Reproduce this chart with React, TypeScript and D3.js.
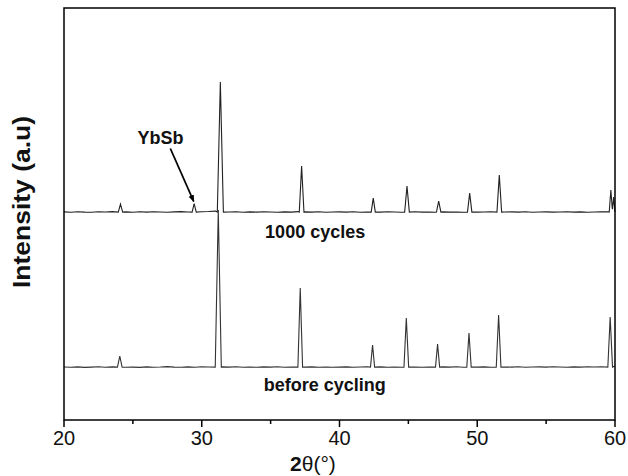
import React from 'react';
import * as d3 from 'd3';

// ---- data ----
const xTicks = [20, 30, 40, 50, 60];
const xMinorTicks = [25, 35, 45, 55];

// "before cycling" pattern: peak positions (2θ) and heights (a.u.)
const beforePeakPos = [24.05, 31.2, 37.15, 42.4, 44.85, 47.12, 49.4, 51.55, 59.65];
const beforePeakInt = [11, 157, 79, 22, 49, 23, 34, 52, 50];
const beforePeakW = [0.17, 0.22, 0.17, 0.15, 0.17, 0.15, 0.16, 0.17, 0.17];

// "1000 cycles" pattern
const afterPeakPos = [24.1, 29.45, 31.35, 37.25, 42.45, 44.9, 47.2, 49.45, 51.6, 59.7, 59.9];
const afterPeakInt = [8, 8.5, 130, 46, 14, 26, 11, 19, 37, 22, 15];
const afterPeakW = [0.16, 0.15, 0.22, 0.17, 0.15, 0.17, 0.16, 0.16, 0.17, 0.12, 0.1];

// background grid (2θ) and background levels of both patterns
const bgTheta = [
  20, 20.5, 21, 21.5, 22, 22.5, 23, 23.5, 24, 24.5, 25, 25.5, 26, 26.5, 27, 27.5, 28, 28.5, 29, 29.5,
  30, 30.5, 31, 31.5, 32, 32.5, 33, 33.5, 34, 34.5, 35, 35.5, 36, 36.5, 37, 37.5, 38, 38.5, 39, 39.5,
  40, 40.5, 41, 41.5, 42, 42.5, 43, 43.5, 44, 44.5, 45, 45.5, 46, 46.5, 47, 47.5, 48, 48.5, 49, 49.5,
  50, 50.5, 51, 51.5, 52, 52.5, 53, 53.5, 54, 54.5, 55, 55.5, 56, 56.5, 57, 57.5, 58, 58.5, 59, 59.5, 60,
];
const beforeBg = [
  0.5, 0.2, 0.6, 0.1, 0.4, 0.8, 0.3, 0.6, 0.5, 0.2, 0.4, 0.1, 0.6, 0.3, 0.5, 0.9, 0.4, 0.2, 0.6, 0.3,
  0.7, 0.5, 0.9, 0.6, 0.4, 0.8, 0.3, 0.5, 0.2, 0.6, 0.4, 0.7, 0.3, 0.5, 0.8, 0.4, 0.6, 0.3, 0.5, 0.2,
  0.4, 0.6, 0.3, 0.5, 0.7, 0.4, 0.6, 0.2, 0.5, 0.3, 0.6, 0.4, 0.2, 0.5, 0.3, 0.6, 0.4, 0.7, 0.3, 0.5,
  0.4, 0.6, 0.3, 0.2, 0.5, 0.4, 0.7, 0.3, 0.5, 0.6, 0.4, 0.8, 0.5, 0.3, 0.6, 0.4, 0.7, 0.5, 0.8, 0.6, 1.5,
];
const afterBg = [
  0.6, 0.3, 0.8, 0.4, 0.2, 0.7, 0.5, 0.9, 0.4, 0.6, 0.3, 0.7, 0.4, 0.8, 0.5, 0.3, 0.6, 0.9, 0.5, 0.4,
  0.8, 1.0, 1.4, 0.9, 0.5, 0.7, 0.3, 0.6, 0.4, 0.8, 0.5, 0.3, 0.6, 0.4, 0.9, 0.6, 0.4, 0.7, 0.3, 0.5,
  0.6, 0.4, 0.7, 0.3, 0.5, 0.6, 0.4, 0.8, 0.5, 0.3, 0.6, 0.7, 0.4, 0.5, 0.3, 0.6, 0.4, 0.5, 0.3, 0.6,
  0.4, 0.5, 0.7, 0.3, 0.5, 0.6, 0.4, 0.7, 0.3, 0.5, 0.6, 0.4, 0.5, 0.7, 0.4, 0.6, 0.3, 0.5, 0.6, 0.8, 0.5,
];
const afterOffset = 155;

// annotation (YbSb arrow): from (2θ, a.u.) to (2θ, a.u.)
const arrowFrom = [27.72, afterOffset + 64];
const arrowTo = [29.42, afterOffset + 11];

// ---- layout ----
const W = 628;
const H = 476;
const M = { left: 64, right: 13, top: 8, bottom: 56 };
const font = "'Liberation Sans', Arial, Helvetica, sans-serif";

function buildProfile(pos: number[], ints: number[], widths: number[], bg: number[], offset: number) {
  const xs = new Set<number>();
  const inPeak = (x: number) => pos.some((c, i) => Math.abs(x - c) < widths[i] && x !== c);
  bgTheta.forEach((x) => { if (!inPeak(x)) xs.add(x); });
  pos.forEach((c, i) => { xs.add(c); xs.add(+(c - widths[i]).toFixed(3)); xs.add(+(c + widths[i]).toFixed(3)); });
  const sorted = Array.from(xs).filter((x) => x >= 20 && x <= 60).sort((a, b) => a - b);
  return sorted.map((x) => {
    const bi = bgTheta.indexOf(x);
    let v = bi >= 0 ? bg[bi] : 0.4;
    pos.forEach((c, i) => {
      const d = Math.abs(x - c);
      if (d < widths[i]) v += ints[i] * (1 - d / widths[i]);
    });
    return [x, v + offset] as [number, number];
  });
}

export default function App() {
  const x = d3.scaleLinear().domain([20, 60]).range([M.left, W - M.right]);
  const y = d3.scaleLinear().domain([-52.5, 359.5]).range([H - M.bottom, M.top]);
  const line = d3.line<[number, number]>().x((d) => x(d[0])).y((d) => y(d[1]));

  const before = buildProfile(beforePeakPos, beforePeakInt, beforePeakW, beforeBg, 0);
  const after = buildProfile(afterPeakPos, afterPeakInt, afterPeakW, afterBg, afterOffset);

  const x0 = M.left, x1 = W - M.right, y0 = M.top, y1 = H - M.bottom;

  return (
    <svg width={W} height={H} style={{ position: 'absolute', left: 0, top: 0, background: '#fff' }}
      fontFamily={font}>
      <defs>
        <marker id="ah" viewBox="0 0 10 10" refX="9" refY="5" markerWidth="7" markerHeight="8"
          orient="auto" markerUnits="userSpaceOnUse">
          <path d="M0,1 L10,5 L0,9 Z" fill="#000" />
        </marker>
      </defs>
      <rect x={0} y={0} width={W} height={H} fill="#fff" />
      <path d={line(before) || ''} fill="none" stroke="#333" strokeWidth={1.1} />
      <path d={line(after) || ''} fill="none" stroke="#222" strokeWidth={1.1} />

      {/* frame */}
      <rect x={x0} y={y0} width={x1 - x0} height={y1 - y0} fill="none" stroke="#000" strokeWidth={1.5} />
      {xTicks.map((t) => (
        <g key={t}>
          <line x1={x(t)} x2={x(t)} y1={y1} y2={y1 + 7} stroke="#000" strokeWidth={1.5} />
          <text x={x(t)} y={y1 + 25} textAnchor="middle" fontSize={20} fill="#111">{t}</text>
        </g>
      ))}
      {xMinorTicks.map((t) => (
        <line key={t} x1={x(t)} x2={x(t)} y1={y1} y2={y1 + 4} stroke="#000" strokeWidth={1.5} />
      ))}
      <text x={313} y={H - 5} textAnchor="middle" fontSize={21} fontWeight="bold" fill="#111">
        2<tspan fontWeight="normal">θ(°)</tspan>
      </text>
      <text transform={`translate(30,${202}) rotate(-90)`} textAnchor="middle" fontSize={23}
        fontWeight="bold" fill="#111" textLength={172} lengthAdjust="spacingAndGlyphs">Intensity (a.u)</text>

      {/* annotations */}
      <text x={x(27.0)} y={y(afterOffset + 69)} textAnchor="middle" fontSize={18} fontWeight="bold" fill="#111">YbSb</text>
      <line x1={x(arrowFrom[0])} y1={y(arrowFrom[1])} x2={x(arrowTo[0])} y2={y(arrowTo[1])}
        stroke="#000" strokeWidth={1.8} markerEnd="url(#ah)" />
      <text x={x(34.6)} y={y(afterOffset - 25)} fontSize={18} fontWeight="bold" fill="#111">1000 cycles</text>
      <text x={x(34.5)} y={y(-23)} fontSize={18} fontWeight="bold" fill="#111">before cycling</text>
    </svg>
  );
}
